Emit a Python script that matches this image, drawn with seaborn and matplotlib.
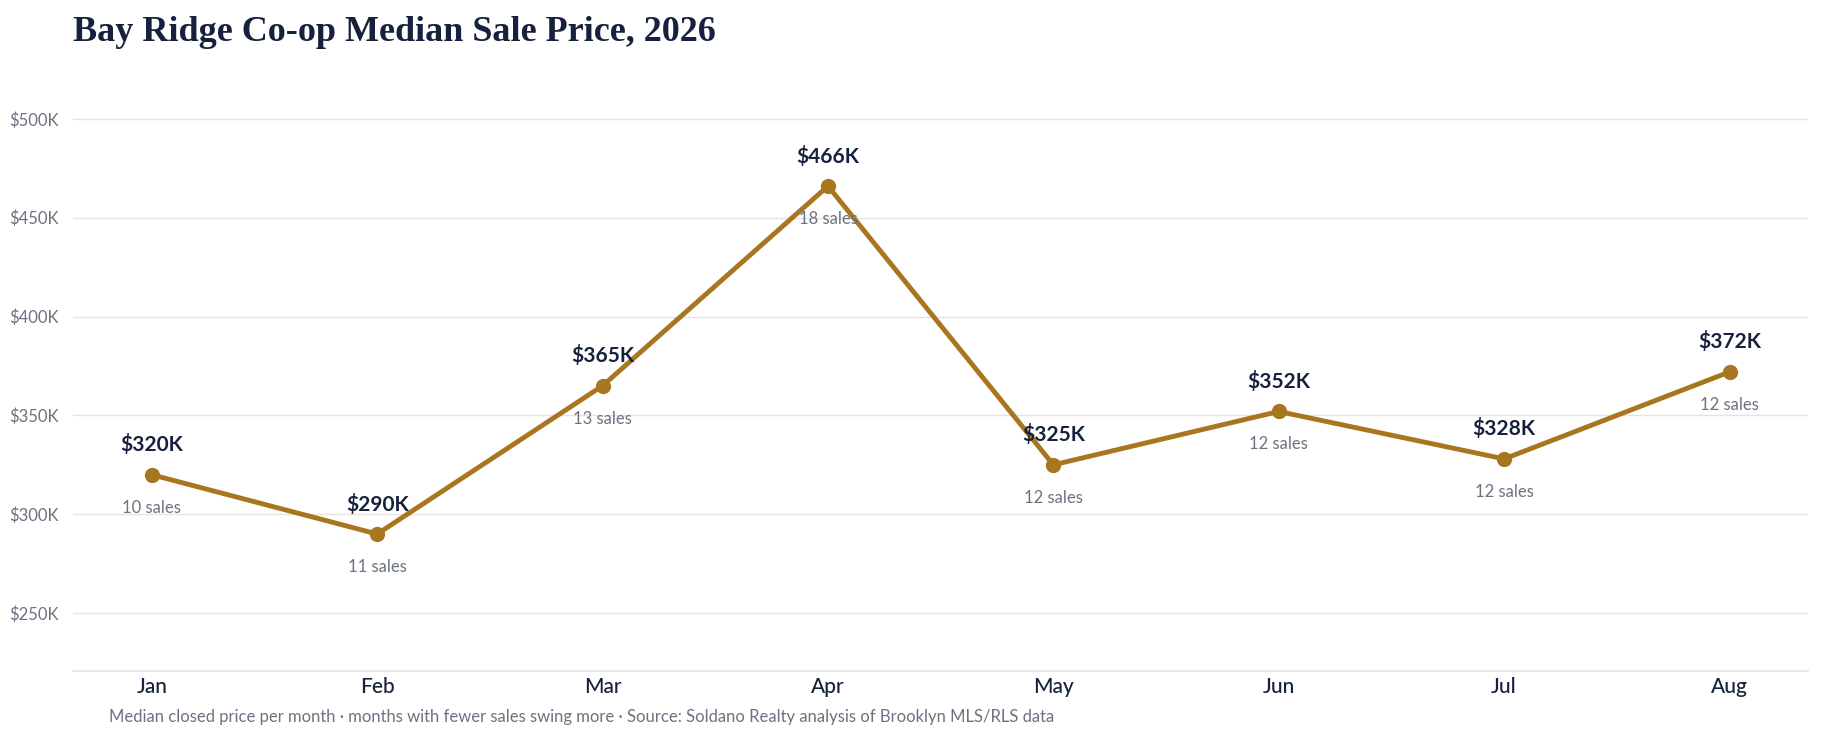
import matplotlib
matplotlib.use("Agg")
import matplotlib.pyplot as plt
import seaborn as sns
import pandas as pd

months = ["Jan", "Feb", "Mar", "Apr", "May", "Jun", "Jul", "Aug"]
prices = [320, 290, 365, 466, 325, 352, 328, 372]  # $K
sales = [10, 11, 13, 18, 12, 12, 12, 12]

df = pd.DataFrame({"i": range(len(months)), "price": [p * 1000 for p in prices]})

sns.set_theme(style="white")
plt.rcParams["font.family"] = ["Lato", "DejaVu Sans"]

gold = "#A8761F"
navy = "#16213d"
grey = "#6b7280"

fig = plt.figure(figsize=(18.23, 7.33), dpi=100)
ax = fig.add_axes([0.04, 0.084, 0.952, 0.77])
sns.lineplot(data=df, x="i", y="price", ax=ax, color=gold, linewidth=3.5,
             marker="o", markersize=11, markeredgewidth=0)

for i, (p, s) in enumerate(zip(prices, sales)):
    ax.annotate(f"${p}K", (i, p * 1000), xytext=(0, 14), textcoords="offset points",
                ha="center", va="bottom", fontsize=15, fontweight="bold", color=navy)
    ax.annotate(f"{s} sales", (i, p * 1000), xytext=(0, -18), textcoords="offset points",
                ha="center", va="top", fontsize=12, color=grey)

ax.set_xlim(-0.35, 7.35)
ax.set_ylim(220500, 506000)
ax.set_xticks(range(len(months)))
ax.set_xticklabels(months, fontsize=15, color=navy, fontweight="medium")
yt = [250000, 300000, 350000, 400000, 450000, 500000]
ax.set_yticks(yt)
ax.set_yticklabels([f"${v // 1000}K" for v in yt], fontsize=12, color=grey)
ax.yaxis.grid(True, color="#e6e4dc", linewidth=1)
ax.tick_params(axis="x", length=0, pad=4)
for sp in ["top", "right", "left"]:
    ax.spines[sp].set_visible(False)
ax.spines["bottom"].set_color("#e6e4dc")
ax.set_xlabel("")
ax.set_ylabel("")
for lab in ax.get_yticklabels():
    lab.set_horizontalalignment("left")
ax.tick_params(axis="y", length=0, pad=46)

fig.text(0.04, 0.955, "Bay Ridge Co-op Median Sale Price, 2026", fontsize=26,
         fontweight="bold", color=navy, family="Liberation Serif", va="center")
fig.text(0.06, 0.022, "Median closed price per month · months with fewer sales swing more · "
         "Source: Soldano Realty analysis of Brooklyn MLS/RLS data",
         fontsize=12, color=grey, va="center")

fig.savefig("out.png", dpi=100)
